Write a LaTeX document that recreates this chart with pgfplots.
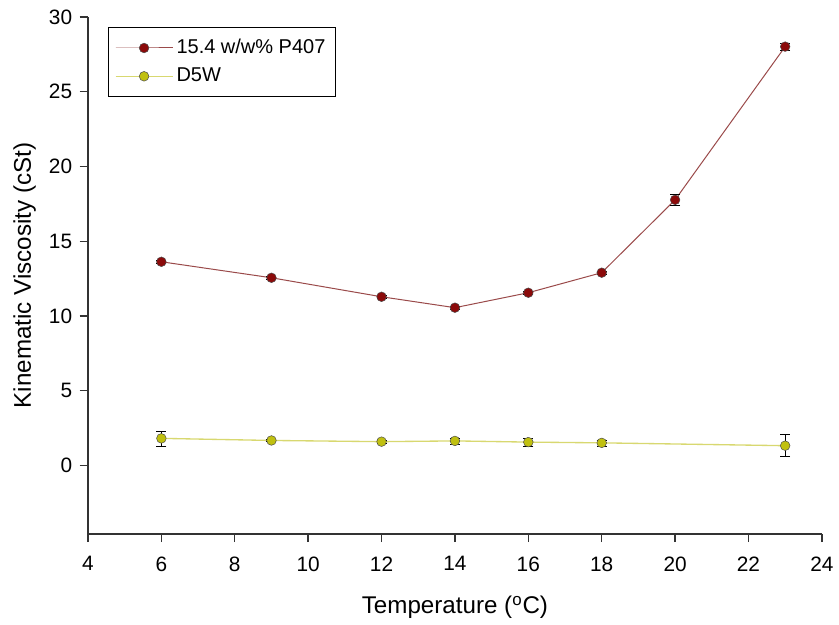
\documentclass[border=0pt]{standalone}
\usepackage{fontspec}
\setmainfont{Liberation Sans}
\usepackage{pgfplots}
\pgfplotsset{compat=1.18}
\definecolor{pred}{HTML}{8B0A0A}
\definecolor{pline}{HTML}{9A4A4A}
\definecolor{dyel}{HTML}{C0C010}
\definecolor{dline}{HTML}{D8D870}
\begin{document}
\begin{tikzpicture}
\begin{axis}[
  scale only axis,
  width=440.4pt, height=310.2pt,
  xmin=4, xmax=24, ymin=-4.57, ymax=30,
  axis lines=left,
  axis line style={-, line width=0.8pt, color=black!80},
  xtick={4,6,...,24}, ytick={0,5,...,30},
  tick align=outside, tick style={line width=0.8pt, color=black!80},
  major tick length=5pt,
  tick label style={font=\fontsize{12.5}{14}\selectfont},
  xticklabel style={yshift=-5pt},
  yticklabel style={xshift=-1pt},
  /pgf/number format/assume math mode=true,
  xlabel={Temperature ($^{\mathrm{o}}$C)},
  ylabel={Kinematic Viscosity (cSt)},
  label style={font=\fontsize{14.5}{16}\selectfont},
  xlabel style={yshift=-8pt},
  ylabel style={yshift=1pt},
  legend style={at={(0.027,0.98)}, anchor=north west, draw=black, line width=0.6pt,
    font=\fontsize{12}{14}\selectfont, inner xsep=4pt, inner ysep=5pt, row sep=3pt},
  legend cell align=left,
  legend image code/.code={\draw[mark repeat=2,mark phase=2] plot coordinates {(0cm,0cm) (0.6cm,0cm) (1.2cm,0cm)};},
  clip=false,
]
\addplot[color=pline, line width=0.6pt, mark=*, mark size=2.9pt,
  mark options={fill=pred, draw=black!70, line width=0.3pt},
  error bars/.cd, y dir=both, y explicit,
  error bar style={black, line width=0.5pt}, error mark options={rotate=90, mark size=3pt, black}]
coordinates {
(6,13.63) +- (0,0.12)
(9,12.56) +- (0,0.12)
(12,11.29) +- (0,0.12)
(14,10.56) +- (0,0.1)
(16,11.56) +- (0,0.12)
(18,12.9) +- (0,0.12)
(20,17.77) +- (0,0.35)
(23,28.02) +- (0,0.22)
};
\addlegendentry{15.4 w/w\% P407}
\addplot[color=dline, line width=0.8pt, mark=*, mark size=2.9pt,
  mark options={fill=dyel, draw=black!70, line width=0.3pt},
  error bars/.cd, y dir=both, y explicit,
  error bar style={black, line width=0.5pt}, error mark options={rotate=90, mark size=3pt, black}]
coordinates {
(6,1.82) +- (0,0.5)
(9,1.68) +- (0,0.08)
(12,1.6) +- (0,0.1)
(14,1.65) +- (0,0.2)
(16,1.57) +- (0,0.25)
(18,1.52) +- (0,0.2)
(23,1.33) +- (0,0.74)
};
\addlegendentry{D5W}
\end{axis}
\path (current axis.south west) ++(-52.8pt,-50.4pt) coordinate (bl);
\path (current axis.north east) ++(10.2pt,10.2pt) coordinate (tr);
\path[use as bounding box] (bl) rectangle (tr);
\end{tikzpicture}
\end{document}
